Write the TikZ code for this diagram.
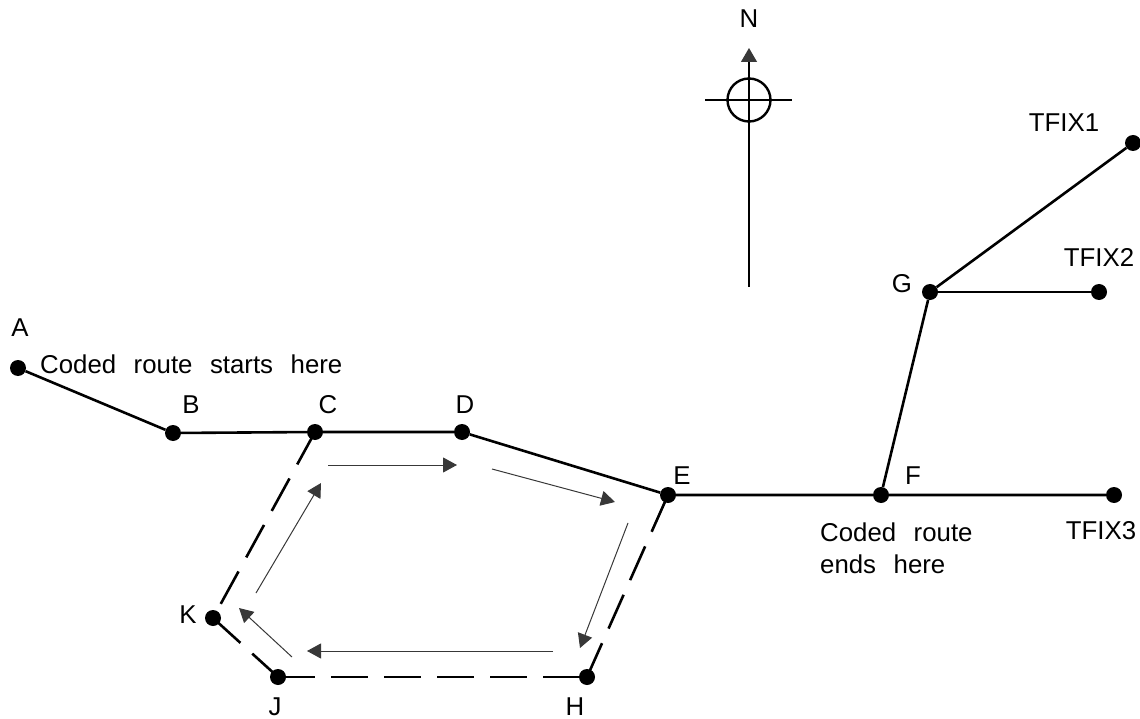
\documentclass[tikz,border=0pt]{standalone}
\usepackage{fontspec}
\setmainfont{Liberation Sans}
\usetikzlibrary{arrows.meta}
\newcommand\lblfont{\fontsize{25.8}{30}\selectfont\spaceskip=0.68em\relax}
\begin{document}
\begin{tikzpicture}[x=1pt,y=-1pt,
  dot/.style={circle,fill=black,minimum size=16pt,inner sep=0pt},
  lbl/.style={anchor=base,inner sep=0pt,font=\lblfont},
  route/.style={line width=2.6pt},
  looproute/.style={line width=2.6pt,dash pattern=on 37pt off 16pt},
  flow/.style={line width=1pt,draw=black!78,-{Triangle[length=14pt,width=15pt,fill=black!78]}},
  northline/.style={line width=1.2pt}]
\useasboundingbox (0,0) rectangle (1140,719);
% points
\node[dot] (A) at (18,368) {};
\node[dot] (B) at (173,433) {};
\node[dot] (C) at (315,432) {};
\node[dot] (D) at (462,432) {};
\node[dot] (E) at (668,495) {};
\node[dot] (F) at (881,495) {};
\node[dot] (G) at (930,292) {};
\node[dot] (T1) at (1133,143) {};
\node[dot] (T2) at (1099,292) {};
\node[dot] (T3) at (1114,495) {};
\node[dot] (H) at (587,677) {};
\node[dot] (J) at (278,677) {};
\node[dot] (K) at (213,618) {};
% labels
\node[lbl] (lA) at (20,336) {A};
\node[lbl] (lB) at (191,413) {B};
\node[lbl] (lC) at (328,413) {C};
\node[lbl] (lD) at (465,413) {D};
\node[lbl] (lE) at (682,484) {E};
\node[lbl] (lF) at (913,484) {F};
\node[lbl] (lG) at (902,293) {G};
\node[lbl] (lT1) at (1064,132) {TFIX1};
\node[lbl] (lT2) at (1099,267) {TFIX2};
\node[lbl] (lT3) at (1101,539) {TFIX3};
\node[lbl] (lH) at (575,715) {H};
\node[lbl] (lJ) at (275,715) {J};
\node[lbl] (lK) at (188,623) {K};
\node[lbl] (lN) at (749,28) {N};
\node[lbl,anchor=base west] (start) at (40,373) {Coded route starts here};
\node[lbl,anchor=base west] (end1) at (820,541) {Coded route};
\node[lbl,anchor=base west] (end2) at (820,573) {ends here};
% route
\draw[route] (A) -- (B) -- (C) -- (D) -- (E) -- (F) -- (T3);
\draw[route] (F) -- (G) -- (T1);
\draw[route] (G) -- (T2);
% loop (dashed)
\draw[looproute] (C.center) -- (K.center);
\draw[looproute] (K.center) -- (J.center);
\draw[looproute] (J.center) -- (H.center);
\draw[looproute] (H.center) -- (E.center);
% flow arrows
\coordinate (f1s) at (328,465); \coordinate (f1e) at (457,465);
\coordinate (f2s) at (492,469); \coordinate (f2e) at (615,502);
\coordinate (f3s) at (628,523); \coordinate (f3e) at (580,648);
\coordinate (f4s) at (553,651); \coordinate (f4e) at (307,651);
\coordinate (f5s) at (292,657); \coordinate (f5e) at (239,608);
\coordinate (f6s) at (256,593); \coordinate (f6e) at (321,483);
\draw[flow] (f1s) -- (f1e);
\draw[flow] (f2s) -- (f2e);
\draw[flow] (f3s) -- (f3e);
\draw[flow] (f4s) -- (f4e);
\draw[flow] (f5s) -- (f5e);
\draw[flow] (f6s) -- (f6e);
% north symbol
\coordinate (nb) at (749,287);
\coordinate (nt) at (749,48);
\coordinate (nc) at (749,100);
\coordinate (nl) at (705,100);
\coordinate (nr) at (792,100);
\draw[northline,draw=black,-{Triangle[length=14pt,width=16pt,fill=black!78,color=black!78]}] (nb) -- (nt);
\draw[line width=2.4pt] (nc) circle[radius=21.5pt];
\draw[line width=2.4pt] (nl) -- (nr);
\end{tikzpicture}
\end{document}
